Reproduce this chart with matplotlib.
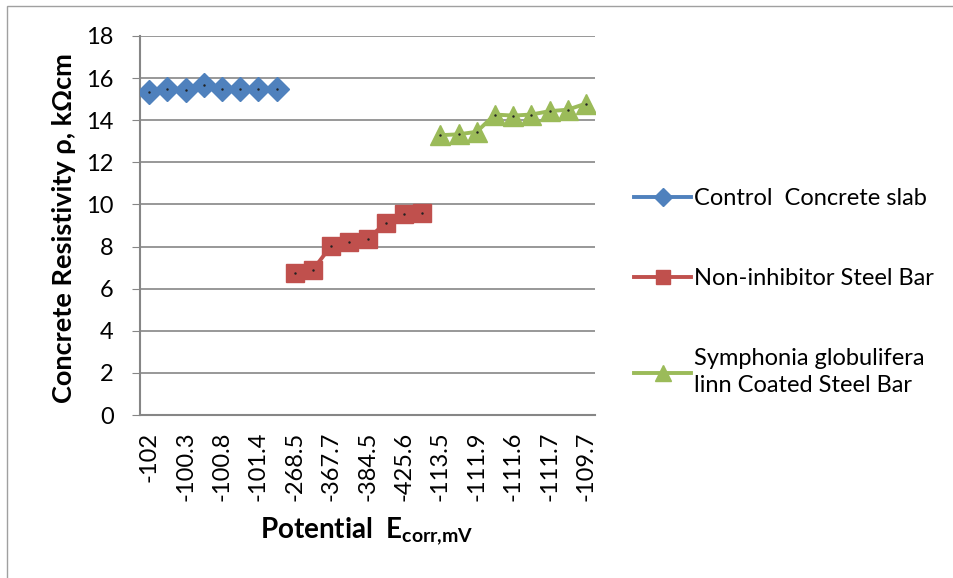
import numpy as np
import matplotlib.pyplot as plt
from matplotlib.patches import Rectangle

plt.rcParams['font.family'] = ['Lato', 'DejaVu Sans']
plt.rcParams['mathtext.fontset'] = 'custom'
plt.rcParams['mathtext.bf'] = 'Lato:bold'
plt.rcParams['mathtext.rm'] = 'Lato'

# category labels shown on the x axis (every second category is labelled)
x_labels = ['-102', '-100.3', '-100.8', '-101.4', '-268.5', '-367.7', '-384.5',
            '-425.6', '-113.5', '-111.9', '-111.6', '-111.7', '-109.7']
n_cat = 25

control = [15.35, 15.5, 15.43, 15.65, 15.46, 15.46, 15.46, 15.5]
non_inhib = [6.76, 6.9, 8.03, 8.2, 8.36, 9.12, 9.55, 9.58]
symphonia = [13.29, 13.33, 13.45, 14.27, 14.22, 14.27, 14.43, 14.5, 14.79]

x_control = np.arange(0, 8)
x_non = np.arange(8, 16)
x_sym = np.arange(16, 25)

fig = plt.figure(figsize=(9.54, 5.78), dpi=100)
ax = fig.add_axes([140/954, 1-415/578, 455/954, 379/578])

fig.patches.append(Rectangle((7/954, -0.1), 2, 1-6/578+0.1, transform=fig.transFigure,
                             fill=False, edgecolor='#A0A0A0', linewidth=1))

blue, red, green = '#4F81BD', '#C0504D', '#9BBB59'
ax.plot(x_control, control, color=blue, lw=2.8, marker='D', ms=12, mec=blue,
        label='Control  Concrete slab', zorder=3)
ax.plot(x_non, non_inhib, color=red, lw=2.8, marker='s', ms=13, mec=red,
        label='Non-inhibitor Steel Bar', zorder=3)
ax.plot(x_sym, symphonia, color=green, lw=2.8, marker='^', ms=14, mec=green,
        label='Symphonia globulifera\nlinn Coated Steel Bar', zorder=3)
for xs, ys in [(x_control, control), (x_non, non_inhib), (x_sym, symphonia)]:
    ax.plot(xs, ys, ls='none', marker='.', ms=1.5, color='#222222', zorder=4)

ax.set_xlim(-0.5, n_cat - 0.5)
ax.set_ylim(0, 18)
ax.set_yticks(np.arange(0, 19, 2))
ax.set_xticks(np.arange(0, n_cat, 2))
ax.set_xticklabels(x_labels, rotation=90, fontsize=17)
ax.tick_params(axis='y', labelsize=17, length=6, color='#868686', pad=13)
ax.tick_params(axis='x', length=0, pad=12)
ax.grid(axis='y', color='#868686', lw=1.2)
ax.set_axisbelow(True)
for s in ['top', 'right']:
    ax.spines[s].set_visible(False)
for s in ['left', 'bottom']:
    ax.spines[s].set_color('#868686')
    ax.spines[s].set_linewidth(1.5)

fig.text(64/954, 1-228/578, 'Concrete Resistivity ρ, kΩcm', fontsize=19.5,
         fontweight='bold', rotation=90, ha='center', va='center')
fig.text(367/954, 1-531/578, r'Potential  $\mathbf{E}_{\mathbf{corr{,}mV}}$',
         fontsize=20, fontweight='bold', ha='center', va='center')

leg = fig.legend(loc='upper left', bbox_to_anchor=(613/954, 1-167/578), frameon=False,
                 fontsize=17, labelspacing=2.5, handlelength=2.4, handletextpad=0.15,
                 markerscale=0.8)
for t in leg.get_texts():
    t.set_linespacing(1.35)

fig.savefig('out.png', dpi=100)
